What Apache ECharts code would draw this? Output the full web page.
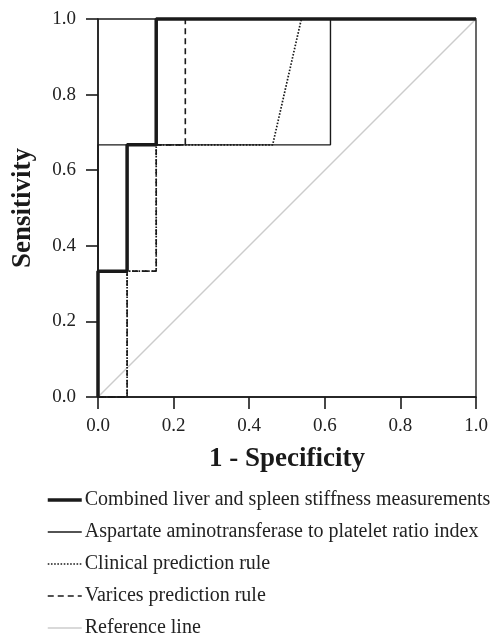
<!DOCTYPE html>
<html>
<head>
<meta charset="utf-8">
<script src="https://cdn.jsdelivr.net/npm/echarts@6/dist/echarts.min.js"></script>
<style>
  html, body { margin: 0; padding: 0; background: #fff; }
  #chart { width: 499px; height: 638px; }
</style>
</head>
<body>
<div id="chart"></div>
<script>
/* ROC 曲线数据: 1 - Specificity (x) / Sensitivity (y) */
var seriesNames = [
    'Combined liver and spleen stiffness measurements',
    'Aspartate aminotransferase to platelet ratio index',
    'Clinical prediction rule',
    'Varices prediction rule',
    'Reference line'
];
var combinedX = [0, 0, 0.077, 0.077, 0.154, 0.154, 1];
var combinedY = [0, 0.333, 0.333, 0.667, 0.667, 1, 1];
var apriX = [0, 0, 0.615, 0.615, 1];
var apriY = [0, 0.667, 0.667, 1, 1];
var clinicalX = [0, 0.077, 0.077, 0.154, 0.154, 0.462, 0.538, 1];
var clinicalY = [0, 0, 0.333, 0.333, 0.667, 0.667, 1, 1];
var varicesX = [0, 0.077, 0.077, 0.154, 0.154, 0.231, 0.231, 1];
var varicesY = [0, 0, 0.333, 0.333, 0.667, 0.667, 1, 1];
var referenceX = [0, 1];
var referenceY = [0, 1];

function pairs(xs, ys) {
    var out = [];
    for (var i = 0; i < xs.length; i++) {
        out.push([xs[i], ys[i]]);
    }
    return out;
}

var ink = '#1a1a1a';
var serif = '"Liberation Serif", "DejaVu Serif", serif';

/* 每条线的样式: 宽度, 线型, 颜色 */
var lineWidths = [3.5, 1.4, 1.7, 1.6, 1.5];
var lineTypes = ['solid', 'solid', [1.6, 1.6], [6, 4], 'solid'];
var lineColors = [ink, ink, ink, ink, '#cccccc'];

function rocLine(idx, data, z) {
    return {
        name: seriesNames[idx],
        type: 'line',
        data: data,
        symbol: 'none',
        clip: false,
        z: z,
        animation: false,
        lineStyle: { color: lineColors[idx], width: lineWidths[idx], type: lineTypes[idx] },
        itemStyle: { color: lineColors[idx] }
    };
}

var legendData = [];
for (var i = 0; i < seriesNames.length; i++) {
    // 图例只显示线条，不显示圆点
    legendData.push({
        name: seriesNames[i],
        itemStyle: { opacity: 0 },
        lineStyle: { width: lineWidths[i], type: lineTypes[i], color: lineColors[i] }
    });
}

var myChart = echarts.init(document.getElementById('chart'));
var option = {
    animation: false,
    backgroundColor: '#fff',
    grid: {
        left: 98, top: 19, width: 378, height: 378,
        show: true,
        borderColor: ink,
        borderWidth: 1.3
    },
    legend: {
        orient: 'vertical',
        left: 46,
        top: 490,
        height: 170,
        itemWidth: 34,
        itemHeight: 20,
        itemGap: 12,
        padding: 0,
        data: legendData,
        textStyle: { fontFamily: serif, fontSize: 20, color: '#222', padding: [0, 0, 0, -2] }
    },
    xAxis: {
        type: 'value',
        min: 0, max: 1, interval: 0.2,
        name: '1 - Specificity',
        nameLocation: 'middle',
        nameGap: 49,
        nameTextStyle: { fontFamily: serif, fontSize: 27, fontWeight: 'bold', color: ink },
        axisLine: { show: true, lineStyle: { color: ink, width: 1.5 } },
        axisTick: { show: true, length: 12, lineStyle: { color: ink, width: 1.6 } },
        axisLabel: {
            margin: 20,
            fontFamily: serif, fontSize: 19, color: '#222',
            formatter: function (v) { return v.toFixed(1); }
        },
        splitLine: { show: false }
    },
    yAxis: {
        type: 'value',
        min: 0, max: 1, interval: 0.2,
        name: 'Sensitivity',
        nameLocation: 'middle',
        nameGap: 61,
        nameTextStyle: { fontFamily: serif, fontSize: 27, fontWeight: 'bold', color: ink },
        axisLine: { show: true, lineStyle: { color: ink, width: 1.5 } },
        axisTick: { show: true, length: 12, lineStyle: { color: ink, width: 1.6 } },
        axisLabel: {
            margin: 22,
            fontFamily: serif, fontSize: 19, color: '#222',
            formatter: function (v) { return v.toFixed(1); }
        },
        splitLine: { show: false }
    },
    series: [
        rocLine(0, pairs(combinedX, combinedY), 6),
        rocLine(1, pairs(apriX, apriY), 5),
        rocLine(2, pairs(clinicalX, clinicalY), 4),
        rocLine(3, pairs(varicesX, varicesY), 3),
        rocLine(4, pairs(referenceX, referenceY), 1)
    ]
};
myChart.setOption(option);
</script>
</body>
</html>
